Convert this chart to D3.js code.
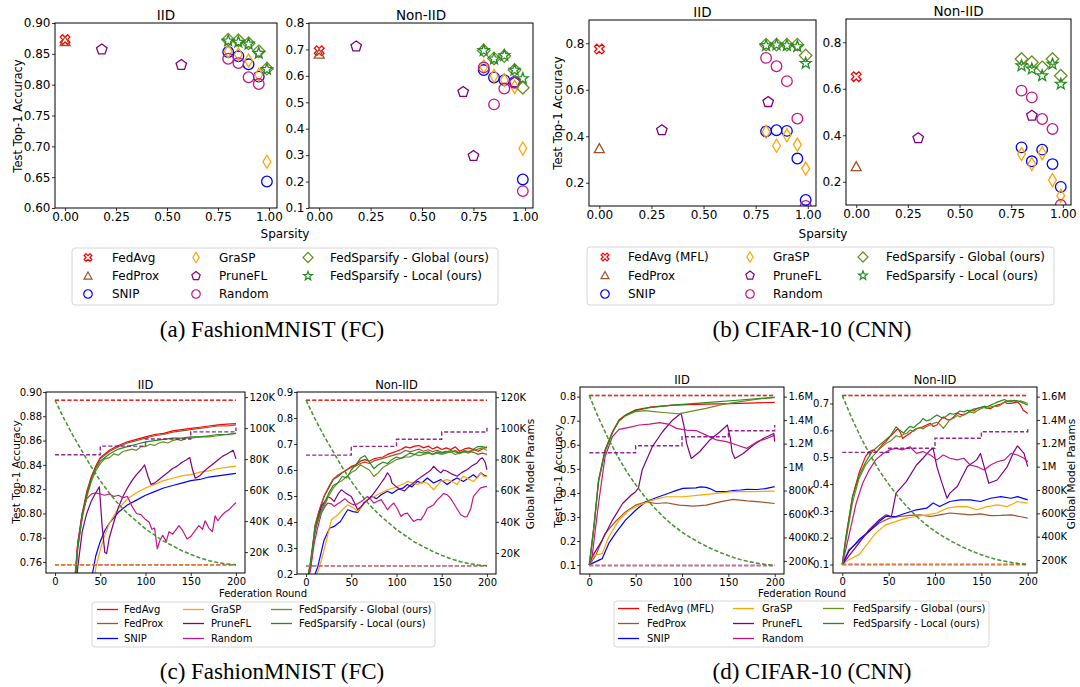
<!DOCTYPE html>
<html>
<head>
<meta charset="utf-8">
<script src="https://cdnjs.cloudflare.com/ajax/libs/d3/7.8.5/d3.min.js"></script>
<style>
body { margin: 0; background: #fff; }
svg { font-family: "DejaVu Sans", sans-serif; }
</style>
</head>
<body>
<svg width="1080" height="687"></svg>
<script>
// ---------- labels ----------
var fmLabels = ["FedAvg", "FedProx", "SNIP", "GraSP", "PruneFL", "Random", "FedSparsify - Global (ours)", "FedSparsify - Local (ours)"];
var cfLabels = ["FedAvg (MFL)", "FedProx", "SNIP", "GraSP", "PruneFL", "Random", "FedSparsify - Global (ours)", "FedSparsify - Local (ours)"];

// ---------- tick labels ----------
var sparsityTicks = [0, 0.25, 0.5, 0.75, 1.0];
var roundTicks = [0, 50, 100, 150, 200];
var fmIidAccTicks = [0.60, 0.65, 0.70, 0.75, 0.80, 0.85, 0.90];
var fmNonAccTicks = [0.1, 0.2, 0.3, 0.4, 0.5, 0.6, 0.7, 0.8];
var cfAccTicks = [0.2, 0.4, 0.6, 0.8];
var fmCurveIidTicks = [0.76, 0.78, 0.80, 0.82, 0.84, 0.86, 0.88, 0.90];
var fmCurveNonTicks = [0.2, 0.3, 0.4, 0.5, 0.6, 0.7, 0.8, 0.9];
var cfCurveIidTicks = [0.1, 0.2, 0.3, 0.4, 0.5, 0.6, 0.7, 0.8];
var cfCurveNonTicks = [0.1, 0.2, 0.3, 0.4, 0.5, 0.6, 0.7];
var fmParamTicks = [20000, 40000, 60000, 80000, 100000, 120000];
var cfParamTicks = [200000, 400000, 600000, 800000, 1000000, 1200000, 1400000, 1600000];

// ---------- (a) FashionMNIST, accuracy vs sparsity ----------
var fmIidFedAvg = [[0, 0.873]];
var fmIidFedProx = [[0, 0.870]];
var fmIidSnip = [[0.8, 0.853], [0.85, 0.846], [0.9, 0.833], [0.95, 0.813], [0.99, 0.643]];
var fmIidGrasp = [[0.8, 0.854], [0.85, 0.849], [0.9, 0.839], [0.95, 0.816], [0.99, 0.675]];
var fmIidPrune = [[0.18, 0.857], [0.57, 0.832]];
var fmIidRandom = [[0.8, 0.842], [0.85, 0.835], [0.9, 0.812], [0.95, 0.801]];
var fmIidGlobal = [[0.8, 0.873], [0.85, 0.872], [0.9, 0.867], [0.95, 0.854], [0.99, 0.826]];
var fmIidLocal = [[0.8, 0.871], [0.85, 0.869], [0.9, 0.866], [0.95, 0.851], [0.99, 0.825]];

var fmNonFedAvg = [[0, 0.695]];
var fmNonFedProx = [[0, 0.682]];
var fmNonSnip = [[0.8, 0.622], [0.85, 0.594], [0.9, 0.584], [0.95, 0.577], [0.99, 0.208]];
var fmNonGrasp = [[0.8, 0.635], [0.85, 0.600], [0.9, 0.584], [0.95, 0.558], [0.99, 0.325]];
var fmNonPrune = [[0.18, 0.711], [0.70, 0.539], [0.75, 0.297], [0.95, 0.575]];
var fmNonRandom = [[0.8, 0.632], [0.85, 0.492], [0.9, 0.552], [0.95, 0.574], [0.99, 0.164]];
var fmNonGlobal = [[0.8, 0.696], [0.85, 0.666], [0.9, 0.675], [0.95, 0.622], [0.99, 0.555]];
var fmNonLocal = [[0.8, 0.696], [0.85, 0.664], [0.9, 0.677], [0.95, 0.622], [0.99, 0.590]];

// ---------- (b) CIFAR-10, accuracy vs sparsity ----------
var cfIidFedAvg = [[0, 0.775]];
var cfIidFedProx = [[0, 0.347]];
var cfIidSnip = [[0.8, 0.421], [0.85, 0.426], [0.9, 0.423], [0.95, 0.304], [0.99, 0.126]];
var cfIidGrasp = [[0.8, 0.419], [0.85, 0.359], [0.9, 0.404], [0.95, 0.364], [0.99, 0.261]];
var cfIidPrune = [[0.3, 0.426], [0.81, 0.547]];
var cfIidRandom = [[0.8, 0.737], [0.85, 0.701], [0.9, 0.637], [0.95, 0.476], [0.99, 0.100]];
var cfIidGlobal = [[0.8, 0.794], [0.85, 0.794], [0.9, 0.794], [0.95, 0.794], [0.99, 0.747]];
var cfIidLocal = [[0.8, 0.790], [0.85, 0.793], [0.9, 0.790], [0.95, 0.786], [0.99, 0.714]];

var cfNonFedAvg = [[0, 0.652]];
var cfNonFedProx = [[0, 0.265]];
var cfNonSnip = [[0.8, 0.348], [0.85, 0.288], [0.9, 0.338], [0.95, 0.276], [0.99, 0.178]];
var cfNonGrasp = [[0.8, 0.319], [0.85, 0.276], [0.9, 0.323], [0.95, 0.207], [0.99, 0.140]];
var cfNonPrune = [[0.3, 0.387], [0.85, 0.484]];
var cfNonRandom = [[0.8, 0.592], [0.85, 0.563], [0.9, 0.470], [0.95, 0.427], [0.99, 0.100]];
var cfNonGlobal = [[0.8, 0.728], [0.85, 0.714], [0.9, 0.692], [0.95, 0.728], [0.99, 0.656]];
var cfNonLocal = [[0.8, 0.699], [0.85, 0.685], [0.9, 0.656], [0.95, 0.706], [0.99, 0.620]];

// ---------- (c) FashionMNIST, accuracy per federation round [round, acc] ----------
var fmIidCurveFedAvg = [[0,0.10],[5,0.35],[10,0.55],[15,0.66],[20,0.73],[25,0.775],[30,0.80],[35,0.818],[40,0.830],[45,0.839],[50,0.846],[60,0.852],[70,0.856],[80,0.859],[90,0.861],[100,0.863],[110,0.865],[120,0.866],[130,0.868],[140,0.869],[150,0.870],[160,0.871],[170,0.872],[180,0.873],[190,0.8735],[200,0.874]];
var fmIidCurveFedProx = [[0,0.10],[5,0.34],[10,0.54],[15,0.655],[20,0.725],[25,0.772],[30,0.798],[35,0.816],[40,0.829],[45,0.838],[50,0.845],[60,0.851],[70,0.855],[80,0.858],[90,0.860],[100,0.862],[110,0.864],[120,0.865],[130,0.867],[140,0.868],[150,0.869],[160,0.870],[170,0.871],[180,0.872],[190,0.872],[200,0.873]];
var fmIidCurveSnip = [[0,0.10],[10,0.30],[20,0.50],[30,0.64],[40,0.745],[45,0.765],[50,0.777],[55,0.786],[60,0.792],[70,0.801],[80,0.807],[90,0.811],[100,0.815],[110,0.818],[120,0.821],[130,0.823],[140,0.825],[150,0.827],[160,0.828],[170,0.830],[180,0.831],[190,0.832],[200,0.833]];
var fmIidCurveGrasp = [[0,0.10],[10,0.25],[20,0.45],[30,0.60],[40,0.72],[45,0.755],[50,0.770],[55,0.782],[60,0.792],[70,0.804],[80,0.812],[90,0.817],[100,0.821],[110,0.824],[120,0.827],[130,0.829],[140,0.831],[150,0.832],[160,0.834],[170,0.835],[180,0.837],[190,0.838],[200,0.839]];
var fmIidCurvePrune = [[0,0.10],[10,0.45],[20,0.70],[25,0.755],[30,0.785],[35,0.800],[40,0.810],[45,0.817],[49,0.822],[52,0.790],[55,0.768],[57,0.767],[60,0.780],[65,0.793],[70,0.805],[75,0.814],[80,0.821],[85,0.827],[90,0.832],[95,0.836],[99,0.840],[103,0.830],[106,0.824],[110,0.825],[115,0.828],[120,0.831],[125,0.834],[130,0.837],[135,0.839],[140,0.842],[145,0.844],[149,0.846],[152,0.836],[155,0.829],[160,0.831],[165,0.835],[170,0.838],[175,0.841],[180,0.844],[185,0.847],[190,0.849],[197,0.852],[200,0.845]];
var fmIidCurveRandom = [[0,0.10],[10,0.45],[20,0.72],[25,0.775],[30,0.800],[35,0.812],[40,0.816],[45,0.817],[50,0.816],[55,0.815],[60,0.816],[65,0.814],[70,0.815],[75,0.813],[80,0.814],[85,0.806],[90,0.800],[95,0.799],[100,0.795],[104,0.793],[107,0.787],[110,0.788],[113,0.771],[116,0.778],[119,0.782],[123,0.777],[126,0.785],[130,0.783],[134,0.787],[137,0.790],[141,0.786],[146,0.779],[150,0.781],[155,0.786],[159,0.790],[163,0.787],[166,0.794],[170,0.788],[174,0.785],[177,0.798],[180,0.794],[185,0.799],[188,0.801],[192,0.803],[196,0.806],[200,0.809]];
var fmIidCurveGlobal = [[0,0.10],[5,0.33],[10,0.53],[15,0.65],[20,0.72],[25,0.77],[30,0.796],[35,0.813],[40,0.826],[45,0.835],[50,0.841],[55,0.845],[60,0.846],[65,0.849],[70,0.848],[75,0.851],[80,0.852],[85,0.853],[90,0.852],[95,0.855],[100,0.855],[105,0.857],[110,0.856],[115,0.858],[120,0.859],[125,0.858],[130,0.860],[135,0.861],[140,0.860],[145,0.862],[150,0.862],[160,0.863],[170,0.863],[180,0.864],[190,0.865],[200,0.866]];
var fmIidCurveLocal = [[0,0.10],[5,0.34],[10,0.54],[15,0.655],[20,0.725],[25,0.772],[30,0.798],[35,0.815],[40,0.828],[45,0.837],[50,0.843],[60,0.849],[70,0.853],[80,0.855],[90,0.857],[100,0.859],[110,0.860],[120,0.861],[130,0.862],[140,0.862],[150,0.863],[160,0.863],[170,0.864],[180,0.865],[190,0.865],[200,0.866]];

var fmNonCurveFedAvg = [[0,0.15],[5,0.22],[10,0.383],[15,0.447],[20,0.498],[25,0.531],[30,0.563],[35,0.575],[40,0.589],[45,0.601],[50,0.614],[55,0.62],[60,0.634],[65,0.64],[70,0.634],[75,0.643],[80,0.647],[85,0.65],[90,0.66],[95,0.666],[100,0.672],[105,0.679],[110,0.689],[115,0.685],[120,0.692],[125,0.694],[130,0.685],[135,0.692],[140,0.681],[145,0.689],[150,0.679],[155,0.685],[160,0.679],[165,0.689],[170,0.672],[175,0.681],[180,0.685],[185,0.679],[190,0.672],[195,0.681],[200,0.689]];
var fmNonCurveFedProx = [[0,0.15],[5,0.23],[10,0.39],[15,0.45],[20,0.50],[25,0.535],[30,0.565],[35,0.58],[40,0.59],[45,0.60],[50,0.61],[55,0.615],[60,0.625],[65,0.63],[70,0.625],[75,0.635],[80,0.64],[85,0.645],[90,0.65],[95,0.655],[100,0.66],[105,0.665],[110,0.675],[115,0.67],[120,0.675],[125,0.68],[130,0.672],[135,0.678],[140,0.67],[145,0.676],[150,0.668],[155,0.672],[160,0.667],[165,0.675],[170,0.665],[175,0.67],[180,0.672],[185,0.668],[190,0.66],[195,0.665],[200,0.66]];
var fmNonCurveSnip = [[0,0.15],[5,0.17],[10,0.20],[13,0.228],[20,0.331],[26,0.376],[31,0.383],[38,0.402],[46,0.447],[52,0.44],[57,0.437],[64,0.473],[72,0.498],[78,0.49],[83,0.505],[90,0.518],[95,0.51],[101,0.524],[107,0.53],[112,0.544],[117,0.535],[123,0.556],[128,0.55],[134,0.569],[141,0.55],[149,0.563],[156,0.544],[162,0.56],[167,0.569],[174,0.556],[180,0.57],[185,0.582],[189,0.57],[193,0.589],[197,0.58],[200,0.576]];
var fmNonCurveGrasp = [[0,0.15],[10,0.18],[15,0.228],[20,0.293],[28,0.408],[35,0.428],[41,0.45],[46,0.466],[52,0.455],[57,0.44],[63,0.465],[68,0.486],[74,0.495],[79,0.505],[85,0.515],[90,0.524],[96,0.53],[101,0.537],[107,0.545],[112,0.556],[118,0.55],[123,0.544],[128,0.553],[134,0.55],[138,0.535],[141,0.524],[145,0.54],[149,0.556],[153,0.56],[156,0.563],[162,0.555],[167,0.544],[171,0.565],[174,0.576],[180,0.565],[185,0.556],[189,0.57],[193,0.589],[197,0.575],[200,0.576]];
var fmNonCurvePrune = [[0,0.15],[5,0.24],[9,0.344],[13,0.41],[17,0.46],[21,0.48],[24,0.498],[28,0.49],[31,0.479],[35,0.505],[39,0.524],[44,0.511],[50,0.498],[54,0.47],[57,0.447],[61,0.46],[64,0.473],[70,0.49],[75,0.511],[79,0.53],[83,0.55],[87,0.57],[90,0.589],[93,0.575],[95,0.55],[100,0.535],[105,0.524],[109,0.52],[112,0.531],[117,0.545],[123,0.563],[128,0.575],[134,0.589],[138,0.60],[141,0.614],[145,0.60],[149,0.589],[152,0.60],[156,0.595],[161,0.585],[167,0.576],[172,0.59],[178,0.601],[183,0.615],[189,0.627],[192,0.64],[195,0.647],[198,0.63],[200,0.601]];
var fmNonCurveRandom = [[0,0.15],[5,0.22],[9,0.318],[13,0.38],[17,0.434],[21,0.46],[24,0.473],[28,0.47],[31,0.46],[35,0.47],[39,0.479],[43,0.49],[46,0.479],[50,0.47],[53,0.466],[57,0.47],[61,0.479],[65,0.49],[68,0.498],[72,0.485],[75,0.473],[79,0.48],[83,0.486],[86,0.47],[90,0.447],[93,0.46],[97,0.473],[101,0.45],[105,0.421],[108,0.43],[112,0.434],[116,0.415],[119,0.402],[123,0.41],[127,0.408],[131,0.43],[134,0.453],[138,0.46],[141,0.466],[145,0.485],[149,0.498],[152,0.51],[156,0.505],[160,0.49],[163,0.473],[167,0.45],[171,0.428],[175,0.42],[178,0.421],[182,0.45],[185,0.498],[189,0.515],[193,0.531],[197,0.535],[200,0.537]];
var fmNonCurveGlobal = [[0,0.15],[5,0.24],[10,0.37],[15,0.42],[20,0.46],[25,0.50],[30,0.53],[35,0.55],[40,0.56],[45,0.575],[50,0.59],[55,0.60],[60,0.62],[65,0.61],[70,0.60],[75,0.575],[80,0.59],[85,0.61],[90,0.62],[95,0.63],[100,0.64],[105,0.645],[110,0.65],[115,0.65],[120,0.66],[125,0.655],[130,0.66],[135,0.665],[140,0.66],[145,0.665],[150,0.66],[155,0.665],[160,0.67],[165,0.66],[170,0.665],[175,0.67],[180,0.665],[185,0.675],[190,0.68],[195,0.685],[200,0.675]];
var fmNonCurveLocal = [[0,0.15],[5,0.25],[10,0.38],[15,0.43],[20,0.47],[25,0.51],[30,0.54],[35,0.55],[40,0.575],[45,0.57],[50,0.60],[55,0.62],[60,0.645],[65,0.655],[70,0.63],[75,0.605],[80,0.62],[85,0.63],[90,0.625],[95,0.64],[100,0.65],[105,0.645],[110,0.655],[115,0.665],[120,0.66],[125,0.67],[130,0.665],[135,0.67],[140,0.66],[145,0.67],[150,0.665],[155,0.67],[160,0.675],[165,0.67],[170,0.665],[175,0.675],[180,0.67],[185,0.68],[190,0.69],[195,0.69],[200,0.685]];

// global model params per round (FashionMNIST FC)
var fmParamsDense = [[0, 118000], [200, 118000]];
var fmParamsSparse = [[0, 11800], [200, 11800]];
var fmParamsFedSparsify = [[0,118000],[10,106000],[20,95000],[30,85000],[40,75000],[50,66000],[60,58000],[70,51000],[80,45000],[90,40000],[100,35000],[110,31000],[120,27000],[130,24000],[140,21000],[150,18500],[160,16300],[170,14500],[180,13200],[190,12300],[200,11800]];
var fmParamsPrune = [[0,82800],[50,88400],[100,93000],[150,97600],[199,97600],[200,100400]];

// ---------- (d) CIFAR-10, accuracy per federation round ----------
var cfIidCurveFedAvg = [[0,0.10],[5,0.26],[10,0.453],[17,0.578],[25,0.654],[32,0.703],[39,0.724],[50,0.745],[65,0.756],[90,0.765],[126,0.769],[163,0.772],[200,0.776]];
var cfIidCurveFedProx = [[0,0.10],[7,0.141],[17,0.231],[28,0.28],[39,0.321],[50,0.349],[61,0.363],[72,0.356],[83,0.359],[97,0.349],[112,0.345],[126,0.349],[141,0.363],[155,0.373],[170,0.367],[184,0.363],[200,0.356]];
var cfIidCurveSnip = [[0,0.10],[3,0.107],[14,0.127],[21,0.19],[28,0.231],[39,0.287],[50,0.328],[61,0.363],[72,0.38],[90,0.405],[101,0.419],[108,0.42],[115,0.421],[120,0.425],[126,0.423],[130,0.418],[137,0.405],[148,0.405],[155,0.41],[163,0.412],[170,0.415],[181,0.414],[190,0.418],[200,0.426]];
var cfIidCurveGrasp = [[0,0.10],[5,0.141],[14,0.148],[21,0.217],[32,0.287],[43,0.328],[54,0.349],[68,0.37],[83,0.384],[101,0.384],[119,0.391],[137,0.398],[155,0.405],[173,0.405],[200,0.407]];
var cfIidCurvePrune = [[0,0.10],[3,0.134],[14,0.204],[25,0.287],[36,0.356],[45,0.39],[50,0.405],[53,0.42],[57,0.495],[68,0.592],[79,0.654],[90,0.703],[99,0.731],[102,0.68],[105,0.606],[110,0.543],[119,0.571],[130,0.62],[141,0.654],[149,0.682],[152,0.63],[154,0.571],[157,0.543],[166,0.564],[177,0.599],[188,0.627],[199,0.647],[200,0.613]];
var cfIidCurveRandom = [[0,0.10],[3,0.134],[10,0.356],[17,0.55],[25,0.634],[32,0.664],[43,0.672],[54,0.682],[65,0.686],[76,0.692],[85,0.686],[94,0.668],[105,0.661],[115,0.659],[126,0.64],[137,0.62],[148,0.613],[159,0.599],[170,0.585],[181,0.613],[192,0.627],[200,0.64]];
var cfIidCurveGlobal = [[0,0.10],[5,0.255],[10,0.445],[17,0.57],[25,0.65],[32,0.698],[39,0.72],[50,0.738],[60,0.742],[70,0.738],[83,0.733],[97,0.728],[108,0.738],[126,0.751],[144,0.768],[163,0.779],[181,0.789],[200,0.797]];
var cfIidCurveLocal = [[0,0.10],[5,0.26],[10,0.45],[17,0.575],[25,0.652],[32,0.70],[39,0.722],[50,0.742],[65,0.754],[90,0.765],[126,0.775],[163,0.786],[200,0.797]];

var cfNonCurveFedAvg = [[0,0.10],[4,0.205],[11,0.353],[18,0.44],[25,0.502],[29,0.52],[33,0.527],[37,0.52],[40,0.533],[44,0.55],[47,0.558],[51,0.575],[55,0.589],[60,0.607],[63,0.59],[65,0.57],[69,0.58],[73,0.589],[77,0.60],[80,0.607],[84,0.61],[87,0.613],[91,0.62],[95,0.626],[98,0.615],[102,0.62],[105,0.635],[109,0.65],[113,0.64],[116,0.638],[120,0.65],[124,0.663],[127,0.66],[131,0.657],[135,0.665],[138,0.675],[142,0.672],[145,0.681],[149,0.685],[153,0.688],[156,0.683],[160,0.681],[164,0.69],[167,0.694],[171,0.698],[175,0.706],[178,0.70],[182,0.70],[185,0.703],[189,0.706],[192,0.695],[195,0.675],[198,0.668],[200,0.663]];
var cfNonCurveFedProx = [[0,0.10],[7,0.155],[18,0.186],[29,0.224],[40,0.255],[51,0.273],[62,0.279],[73,0.283],[84,0.285],[95,0.279],[105,0.285],[116,0.292],[127,0.289],[138,0.285],[149,0.289],[160,0.282],[171,0.283],[182,0.285],[191,0.279],[200,0.273]];
var cfNonCurveSnip = [[0,0.10],[7,0.149],[18,0.193],[29,0.224],[40,0.261],[47,0.279],[58,0.279],[69,0.292],[80,0.304],[91,0.31],[98,0.329],[105,0.316],[116,0.335],[127,0.341],[138,0.341],[149,0.335],[160,0.347],[171,0.353],[182,0.347],[189,0.353],[200,0.341]];
var cfNonCurveGrasp = [[0,0.10],[7,0.118],[18,0.137],[25,0.168],[36,0.217],[47,0.248],[58,0.261],[69,0.273],[80,0.279],[91,0.285],[102,0.292],[113,0.31],[124,0.316],[135,0.316],[145,0.304],[156,0.316],[167,0.322],[178,0.316],[189,0.335],[200,0.329]];
var cfNonCurvePrune = [[0,0.10],[7,0.131],[18,0.18],[29,0.23],[40,0.267],[47,0.285],[53,0.279],[58,0.366],[69,0.409],[80,0.471],[87,0.496],[95,0.527],[98,0.533],[102,0.465],[107,0.409],[113,0.347],[116,0.366],[124,0.391],[135,0.465],[145,0.49],[149,0.514],[153,0.465],[158,0.403],[167,0.415],[178,0.465],[185,0.52],[189,0.542],[196,0.514],[200,0.465]];
var cfNonCurveRandom = [[0,0.10],[7,0.205],[15,0.329],[22,0.403],[29,0.452],[36,0.49],[44,0.514],[51,0.527],[58,0.533],[65,0.527],[73,0.539],[80,0.514],[87,0.521],[95,0.508],[102,0.49],[109,0.508],[116,0.496],[124,0.49],[131,0.496],[138,0.471],[145,0.465],[153,0.452],[160,0.471],[167,0.483],[175,0.49],[182,0.514],[189,0.508],[196,0.496],[200,0.483]];
var cfNonCurveGlobal = [[0,0.10],[4,0.19],[11,0.33],[18,0.42],[25,0.47],[32,0.50],[40,0.53],[47,0.551],[52,0.56],[58,0.58],[62,0.575],[66,0.585],[70,0.59],[73,0.601],[77,0.596],[80,0.605],[84,0.61],[87,0.605],[91,0.615],[95,0.62],[98,0.625],[102,0.63],[106,0.62],[109,0.607],[113,0.625],[116,0.64],[120,0.645],[124,0.655],[127,0.65],[131,0.66],[135,0.665],[138,0.669],[142,0.665],[145,0.672],[149,0.68],[153,0.685],[156,0.681],[160,0.688],[164,0.69],[167,0.688],[171,0.695],[175,0.705],[178,0.71],[182,0.712],[185,0.71],[189,0.706],[192,0.71],[196,0.705],[200,0.70]];
var cfNonCurveLocal = [[0,0.10],[4,0.20],[11,0.35],[18,0.43],[25,0.48],[32,0.52],[40,0.545],[47,0.565],[52,0.58],[58,0.613],[62,0.60],[66,0.59],[70,0.605],[73,0.615],[77,0.61],[80,0.62],[84,0.63],[87,0.644],[91,0.635],[95,0.64],[98,0.648],[102,0.657],[106,0.65],[109,0.645],[113,0.655],[116,0.663],[120,0.66],[124,0.665],[127,0.672],[131,0.669],[135,0.675],[138,0.672],[142,0.68],[145,0.681],[149,0.685],[153,0.69],[156,0.688],[160,0.694],[164,0.70],[167,0.705],[171,0.71],[175,0.715],[178,0.708],[182,0.706],[185,0.712],[189,0.71],[192,0.706],[196,0.70],[200,0.694]];

// global model params per round (CIFAR-10 CNN)
var cfParamsDense = [[0, 1610000], [200, 1610000]];
var cfParamsSparse = [[0, 161000], [200, 161000]];
var cfParamsFedSparsify = [[0,1610000],[10,1420000],[20,1250000],[30,1100000],[40,965000],[50,850000],[60,745000],[70,655000],[80,575000],[90,505000],[100,445000],[110,395000],[120,350000],[130,310000],[140,275000],[150,245000],[160,218000],[170,198000],[180,182000],[190,170000],[200,162000]];
var cfIidParamsPrune = [[0,1122000],[50,1182000],[100,1259000],[150,1310000],[199,1310000],[200,1358000]];
var cfNonParamsPrune = [[0,1122000],[50,1157000],[100,1243000],[150,1299000],[199,1299000],[200,1337000]];

// ---------- styles ----------
var methodColors = ["#ff0000", "#a0522d", "#0000ff", "#ffa500", "#800080", "#c71585", "#6b8e23", "#228b22"];
var methodMarkers = ["X", "^", "o", "d", "p", "o", "D", "*"];
var markerSize = {X: 5.5, "^": 5, o: 5.3, d: 6.5, p: 5.5, D: 6.3, "*": 5.8};

var svg = d3.select("svg");
var defs = svg.append("defs");

var markerPath = function(kind, r) {
  var pts = [], i, a;
  if (kind === "o") {
    return "M" + r + ",0A" + r + "," + r + " 0 1,1 " + (-r) + ",0A" + r + "," + r + " 0 1,1 " + r + ",0Z";
  }
  if (kind === "^") pts = [[0, -r], [r, r * 0.8], [-r, r * 0.8]];
  if (kind === "d") pts = [[0, -r], [r * 0.6, 0], [0, r], [-r * 0.6, 0]];
  if (kind === "D") pts = [[0, -r], [r, 0], [0, r], [-r, 0]];
  if (kind === "p") {
    for (i = 0; i < 5; i++) { a = -Math.PI / 2 + i * 2 * Math.PI / 5; pts.push([r * Math.cos(a), r * Math.sin(a)]); }
  }
  if (kind === "*") {
    for (i = 0; i < 10; i++) { a = -Math.PI / 2 + i * Math.PI / 5; var rr = i % 2 ? r * 0.42 : r; pts.push([rr * Math.cos(a), rr * Math.sin(a)]); }
  }
  if (kind === "X") {
    var w = r * 0.3, q = r * 0.95;
    var plus = [[-w,-q],[w,-q],[w,-w],[q,-w],[q,w],[w,w],[w,q],[-w,q],[-w,w],[-q,w],[-q,-w],[-w,-w]];
    pts = plus.map(function(p){ return [(p[0] - p[1]) * 0.7071, (p[0] + p[1]) * 0.7071]; });
  }
  return "M" + pts.map(function(p){ return p[0].toFixed(2) + "," + p[1].toFixed(2); }).join("L") + "Z";
};

var styleAxis = function(g, fs) {
  g.attr("font-family", null).attr("font-size", fs);
  g.select(".domain").remove();
  g.selectAll(".tick line").attr("stroke", "#000").attr("stroke-width", 0.8);
  g.selectAll(".tick text").attr("fill", "#000");
};

var addClip = function(id, p) {
  defs.append("clipPath").attr("id", id).append("rect")
    .attr("x", p.left).attr("y", p.top).attr("width", p.w).attr("height", p.h);
};

var frame = function(p) {
  svg.append("rect").attr("x", p.left).attr("y", p.top).attr("width", p.w).attr("height", p.h)
    .attr("fill", "none").attr("stroke", "#000").attr("stroke-width", 1);
};

var vLabel = function(text, x, y, fs) {
  svg.append("text").text(text)
    .attr("transform", "translate(" + x + "," + y + ") rotate(-90)")
    .attr("text-anchor", "middle").attr("dominant-baseline", "central")
    .attr("font-size", fs).attr("fill", "#000");
};

// ---------- accuracy vs sparsity scatter ----------
var drawScatter = function(p) {
  var x = d3.scaleLinear().domain([-0.0495, 1.0395]).range([p.left, p.left + p.w]);
  var y = d3.scaleLinear().domain(p.yDomain).range([p.top + p.h, p.top]);
  addClip("clip" + p.key, p);

  svg.append("g").attr("transform", "translate(0," + (p.top + p.h) + ")")
    .call(d3.axisBottom(x).tickValues(sparsityTicks).tickFormat(d3.format(".2f")).tickSize(3).tickPadding(1.5))
    .call(styleAxis, 12);
  svg.append("g").attr("transform", "translate(" + p.left + ",0)")
    .call(d3.axisLeft(y).tickValues(p.yTicks).tickFormat(d3.format(p.yFmt)).tickSize(3).tickPadding(1.5))
    .call(styleAxis, 12);

  var plot = svg.append("g").attr("clip-path", "url(#clip" + p.key + ")");
  p.series.forEach(function(pts, i) {
    var m = methodMarkers[i];
    plot.selectAll("path.m" + i)
      .data(pts)
      .enter()
      .append("path")
      .attr("class", "m" + i)
      .attr("d", markerPath(m, markerSize[m]))
      .attr("transform", function(d){ return "translate(" + x(d[0]) + "," + y(d[1]) + ")"; })
      .attr("fill", "none")
      .attr("stroke", methodColors[i])
      .attr("stroke-width", 1.3);
  });
  frame(p);

  svg.append("text").text(p.title)
    .attr("x", p.left + p.w / 2).attr("y", p.top - 3.5)
    .attr("text-anchor", "middle").attr("font-size", 13.5).attr("fill", "#000");
};

// ---------- accuracy and params per round ----------
var drawCurves = function(p) {
  var x = d3.scaleLinear().domain([-10, 210]).range([p.left, p.left + p.w]);
  var y = d3.scaleLinear().domain(p.yDomain).range([p.top + p.h, p.top]);
  var y2 = d3.scaleLinear().domain(p.y2Domain).range([p.top + p.h, p.top]);
  addClip("clip" + p.key, p);

  svg.append("g").attr("transform", "translate(0," + (p.top + p.h) + ")")
    .call(d3.axisBottom(x).tickValues(roundTicks).tickSize(3).tickPadding(2))
    .call(styleAxis, 10);
  svg.append("g").attr("transform", "translate(" + p.left + ",0)")
    .call(d3.axisLeft(y).tickValues(p.yTicks).tickFormat(d3.format(p.yFmt)).tickSize(3).tickPadding(1))
    .call(styleAxis, 10);
  svg.append("g").attr("transform", "translate(" + (p.left + p.w) + ",0)")
    .call(d3.axisRight(y2).tickValues(p.y2Ticks).tickFormat(p.y2Fmt).tickSize(3).tickPadding(1.5))
    .call(styleAxis, 10);

  var acc = d3.line().x(function(d){ return x(d[0]); }).y(function(d){ return y(d[1]); });
  var plot = svg.append("g").attr("clip-path", "url(#clip" + p.key + ")");
  plot.selectAll("path.acc")
    .data(p.curves)
    .enter()
    .append("path")
    .attr("class", "acc")
    .attr("d", acc)
    .attr("fill", "none")
    .attr("stroke", function(d, i){ return methodColors[i]; })
    .attr("stroke-width", 1.2)
    .attr("stroke-linejoin", "round");

  // params on the twin axis, dashed
  var par = d3.line().x(function(d){ return x(d[0]); }).y(function(d){ return y2(d[1]); });
  p.params.forEach(function(s) {
    plot.append("path")
      .attr("d", par.curve(s.step ? d3.curveStepAfter : d3.curveLinear)(s.data))
      .attr("fill", "none")
      .attr("stroke", methodColors[s.method])
      .attr("stroke-width", 1.4)
      .attr("stroke-dasharray", "4,2.2")
      .attr("stroke-opacity", s.step ? 0.85 : 0.7);
  });
  frame(p);

  svg.append("text").text(p.title)
    .attr("x", p.left + p.w / 2).attr("y", p.top - 3.5)
    .attr("text-anchor", "middle").attr("font-size", 11.5).attr("fill", "#000");
};

var markerLegend = function(box, labels, cols, rows) {
  svg.append("rect").attr("x", box[0]).attr("y", box[1]).attr("width", box[2]).attr("height", box[3])
    .attr("rx", 3).attr("fill", "#fff").attr("stroke", "#d6d6d6").attr("stroke-width", 1);
  labels.forEach(function(t, i) {
    var c = Math.floor(i / 3), r = i % 3;
    var m = methodMarkers[i];
    svg.append("path").attr("d", markerPath(m, markerSize[m] * 0.8))
      .attr("transform", "translate(" + cols[c][0] + "," + rows[r] + ")")
      .attr("fill", "none").attr("stroke", methodColors[i]).attr("stroke-width", 1.2);
    svg.append("text").text(t).attr("x", cols[c][1]).attr("y", rows[r] + 4.3)
      .attr("font-size", 12).attr("fill", "#000");
  });
};

var lineLegend = function(box, labels, cols, rows) {
  svg.append("rect").attr("x", box[0]).attr("y", box[1]).attr("width", box[2]).attr("height", box[3])
    .attr("rx", 3).attr("fill", "#fff").attr("stroke", "#d6d6d6").attr("stroke-width", 1);
  labels.forEach(function(t, i) {
    var c = Math.floor(i / 3), r = i % 3;
    svg.append("line").attr("x1", cols[c][0]).attr("x2", cols[c][0] + 21)
      .attr("y1", rows[r]).attr("y2", rows[r])
      .attr("stroke", methodColors[i]).attr("stroke-width", 1.3);
    svg.append("text").text(t).attr("x", cols[c][1]).attr("y", rows[r] + 3.6)
      .attr("font-size", 10).attr("fill", "#000");
  });
};

var caption = function(text, x, y) {
  svg.append("text").text(text).attr("x", x).attr("y", y)
    .attr("text-anchor", "middle").attr("font-size", 23)
    .attr("font-family", "'Liberation Serif', 'Times New Roman', serif").attr("fill", "#000");
};

var centerText = function(text, x, y, fs) {
  svg.append("text").text(text).attr("x", x).attr("y", y)
    .attr("text-anchor", "middle").attr("font-size", fs).attr("fill", "#000");
};

// ---------- top row ----------
drawScatter({key: "a1", left: 55, top: 23, w: 222, h: 185, yDomain: [0.6, 0.9], yTicks: fmIidAccTicks, yFmt: ".2f", title: "IID",
  series: [fmIidFedAvg, fmIidFedProx, fmIidSnip, fmIidGrasp, fmIidPrune, fmIidRandom, fmIidGlobal, fmIidLocal]});
drawScatter({key: "a2", left: 309, top: 23, w: 224, h: 185, yDomain: [0.1, 0.8], yTicks: fmNonAccTicks, yFmt: ".1f", title: "Non-IID",
  series: [fmNonFedAvg, fmNonFedProx, fmNonSnip, fmNonGrasp, fmNonPrune, fmNonRandom, fmNonGlobal, fmNonLocal]});
drawScatter({key: "b1", left: 589, top: 20, w: 227, h: 186, yDomain: [0.1, 0.9], yTicks: cfAccTicks, yFmt: ".1f", title: "IID",
  series: [cfIidFedAvg, cfIidFedProx, cfIidSnip, cfIidGrasp, cfIidPrune, cfIidRandom, cfIidGlobal, cfIidLocal]});
drawScatter({key: "b2", left: 846, top: 19, w: 225, h: 186, yDomain: [0.1, 0.9], yTicks: cfAccTicks, yFmt: ".1f", title: "Non-IID",
  series: [cfNonFedAvg, cfNonFedProx, cfNonSnip, cfNonGrasp, cfNonPrune, cfNonRandom, cfNonGlobal, cfNonLocal]});

vLabel("Test Top-1 Accuracy", 18, 116, 11.5);
vLabel("Test Top-1 Accuracy", 558, 113, 11.5);
centerText("Sparsity", 285, 238, 12);
centerText("Sparsity", 823, 238, 12);

markerLegend([72, 248, 426, 57], fmLabels, [[88, 112], [196, 219], [308, 330]], [257.5, 276, 294]);
markerLegend([587, 247, 467, 58], cfLabels, [[605, 628], [750, 773], [863, 886]], [257, 275.5, 294]);

caption("(a) FashionMNIST (FC)", 272, 337);
caption("(b) CIFAR-10 (CNN)", 812, 337);

// ---------- bottom row ----------
var kFmt = function(d){ return d / 1000 + "K"; };
var mFmt = function(d){ return d >= 1000000 ? (d / 1000000) + "M" : (d / 1000) + "K"; };

var fmParams = [
  {data: fmParamsDense, method: 1}, {data: fmParamsDense, method: 0},
  {data: fmParamsSparse, method: 2}, {data: fmParamsSparse, method: 5}, {data: fmParamsSparse, method: 3},
  {data: fmParamsFedSparsify, method: 6}, {data: fmParamsFedSparsify, method: 7},
  {data: fmParamsPrune, method: 4, step: true}
];

drawCurves({key: "c1", left: 46, top: 392, w: 199, h: 181, yDomain: [0.751, 0.9], yTicks: fmCurveIidTicks, yFmt: ".2f",
  y2Domain: [6500, 123300], y2Ticks: fmParamTicks, y2Fmt: kFmt, title: "IID",
  curves: [fmIidCurveFedAvg, fmIidCurveFedProx, fmIidCurveSnip, fmIidCurveGrasp, fmIidCurvePrune, fmIidCurveRandom, fmIidCurveGlobal, fmIidCurveLocal],
  params: fmParams});
drawCurves({key: "c2", left: 297, top: 392, w: 199, h: 182, yDomain: [0.2, 0.9], yTicks: fmCurveNonTicks, yFmt: ".1f",
  y2Domain: [6500, 123300], y2Ticks: fmParamTicks, y2Fmt: kFmt, title: "Non-IID",
  curves: [fmNonCurveFedAvg, fmNonCurveFedProx, fmNonCurveSnip, fmNonCurveGrasp, fmNonCurvePrune, fmNonCurveRandom, fmNonCurveGlobal, fmNonCurveLocal],
  params: fmParams});

var cfParams = function(prune) {
  return [
    {data: cfParamsDense, method: 1}, {data: cfParamsDense, method: 0},
    {data: cfParamsSparse, method: 2}, {data: cfParamsSparse, method: 5}, {data: cfParamsSparse, method: 3},
    {data: cfParamsFedSparsify, method: 6}, {data: cfParamsFedSparsify, method: 7},
    {data: prune, method: 4, step: true}
  ];
};

drawCurves({key: "d1", left: 580, top: 387, w: 204, h: 187, yDomain: [0.063, 0.84], yTicks: cfCurveIidTicks, yFmt: ".1f",
  y2Domain: [88500, 1682500], y2Ticks: cfParamTicks, y2Fmt: mFmt, title: "IID",
  curves: [cfIidCurveFedAvg, cfIidCurveFedProx, cfIidCurveSnip, cfIidCurveGrasp, cfIidCurvePrune, cfIidCurveRandom, cfIidCurveGlobal, cfIidCurveLocal],
  params: cfParams(cfIidParamsPrune)});
drawCurves({key: "d2", left: 833, top: 387, w: 204, h: 186, yDomain: [0.0685, 0.7615], yTicks: cfCurveNonTicks, yFmt: ".1f",
  y2Domain: [88500, 1682500], y2Ticks: cfParamTicks, y2Fmt: mFmt, title: "Non-IID",
  curves: [cfNonCurveFedAvg, cfNonCurveFedProx, cfNonCurveSnip, cfNonCurveGrasp, cfNonCurvePrune, cfNonCurveRandom, cfNonCurveGlobal, cfNonCurveLocal],
  params: cfParams(cfNonParamsPrune)});

vLabel("Test Top-1 Accuracy", 16, 472, 10.5);
vLabel("Global Model Params", 530, 474, 10.5);
vLabel("Test Top-1 Accuracy", 558, 476, 10.5);
vLabel("Global Model Params", 1071, 474, 10.5);
centerText("Federation Round", 263, 597, 10);
centerText("Federation Round", 802, 597, 10);

lineLegend([92, 602, 343, 45], fmLabels, [[97, 124], [183, 211], [271, 299]], [609.5, 623.5, 638.5]);
lineLegend([614, 601, 375, 46], cfLabels, [[618, 647], [733, 762], [823, 853]], [608.5, 623.5, 638.5]);

caption("(c) FashionMNIST (FC)", 272, 679);
caption("(d) CIFAR-10 (CNN)", 812, 679);
</script>
</body>
</html>
